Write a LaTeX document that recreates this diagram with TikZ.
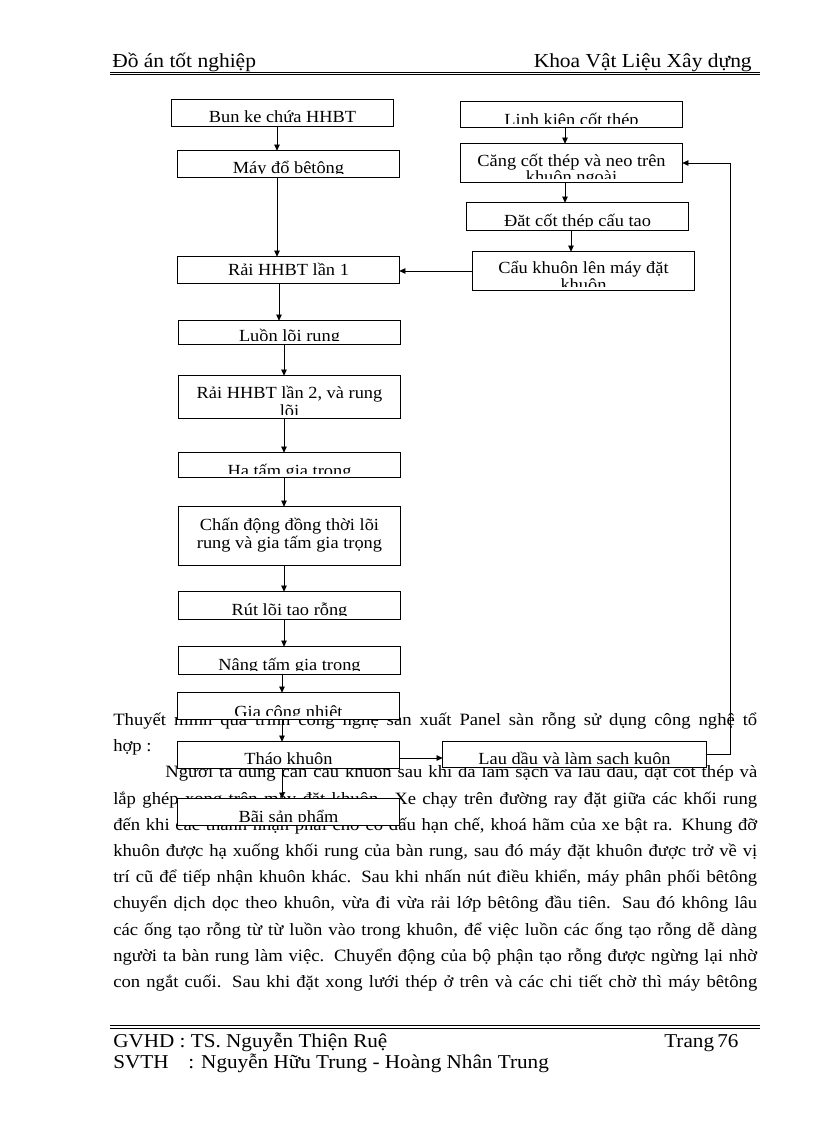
\documentclass[tikz,border=0pt]{standalone}
\usepackage{fontspec}
\setmainfont{Liberation Serif}[FakeStretch=1.08]
\usetikzlibrary{arrows.meta,fit}
\newcommand{\inbox}[4]{%
  \begin{scope}
    \clip ([shift={(0.8pt,2.6pt)}]#1.south west) rectangle ([shift={(-0.8pt,-0.8pt)}]#1.north east);
    \node[btxt] at (#2,#3) {#4};
  \end{scope}}
\begin{document}
\begin{tikzpicture}[x=0.7292pt,y=-0.7292pt,
  box/.style={draw, fill=white, line width=0.6pt, inner sep=0pt},
  btxt/.style={font=\fontsize{12.4}{12.4}\selectfont, inner sep=0pt, anchor=base},
  ptxt/.style={font=\fontsize{12.6}{12.6}\selectfont, inner sep=0pt, anchor=base west},
  htxt/.style={font=\fontsize{14.5}{14.5}\selectfont, inner sep=0pt},
  ftxt/.style={font=\fontsize{14.3}{14.3}\selectfont, inner sep=0pt, anchor=base west},
  arr/.style={line width=0.6pt, -{Triangle[length=4.5pt,width=4pt]}},
  ln/.style={line width=0.6pt}]
\useasboundingbox (0,0) rectangle (816,1123);
\fill[white] (0,0) rectangle (816,1123);

% header
\node[htxt, anchor=base west] (h1) at (112,68) {Đồ án tốt nghiệp};
\node[htxt, anchor=base east] (h2) at (752,68) {Khoa Vật Liệu Xây dựng};
\draw[line width=0.5pt] (110,72) -- (760,72);
\draw[line width=1.2pt] (110,74.6) -- (760,74.6);

% paragraph text
\node[ptxt] (t1) at (113,725) {\makebox[469.6pt][s]{Thuyết minh quá trình công nghệ sản xuất Panel sàn rỗng sử dụng công nghệ tổ}};
\node[ptxt] (t2) at (113,751) {hợp :};
\node[ptxt] (t3) at (165,777) {\makebox[431.7pt][s]{Người ta dùng cần cẩu khuôn sau khi đã làm sạch và lau dầu, đặt cốt thép và}};
\node[ptxt] (t4) at (113,804) {\makebox[469.6pt][s]{lắp ghép xong trên máy đặt khuôn. Xe chạy trên đường ray đặt giữa các khối rung}};
\node[ptxt] (t5) at (113,830) {\makebox[469.6pt][s]{đến khi các thanh nhận phải chờ có dấu hạn chế, khoá hãm của xe bật ra. Khung đỡ}};
\node[ptxt] (t6) at (113,856) {\makebox[469.6pt][s]{khuôn được hạ xuống khối rung của bàn rung, sau đó máy đặt khuôn được trở về vị}};
\node[ptxt] (t7) at (113,882) {\makebox[469.6pt][s]{trí cũ để tiếp nhận khuôn khác. Sau khi nhấn nút điều khiển, máy phân phối bêtông}};
\node[ptxt] (t8) at (113,908) {\makebox[469.6pt][s]{chuyển dịch dọc theo khuôn, vừa đi vừa rải lớp bêtông đầu tiên. Sau đó không lâu}};
\node[ptxt] (t9) at (113,935) {\makebox[469.6pt][s]{các ống tạo rỗng từ từ luồn vào trong khuôn, để việc luồn các ống tạo rỗng dễ dàng}};
\node[ptxt] (t10) at (113,961) {\makebox[469.6pt][s]{người ta bàn rung làm việc. Chuyển động của bộ phận tạo rỗng được ngừng lại nhờ}};
\node[ptxt] (t11) at (113,987) {\makebox[469.6pt][s]{con ngắt cuối. Sau khi đặt xong lưới thép ở trên và các chi tiết chờ thì máy bêtông}};

% connector positions
\coordinate (xa) at (277,0);
\coordinate (xb) at (279,0);
\coordinate (xc) at (284,0);
\coordinate (xd) at (282,0);
\coordinate (xr) at (565,0);
\coordinate (xs) at (571,0);
\coordinate (fb) at (730,0);
\coordinate (yl) at (0,758);

% boxes (geometry only first, for connectors)
\path (172,100) coordinate (b1a) (393,126) coordinate (b1b)
      (178,151) coordinate (b2a) (399,177) coordinate (b2b)
      (178,257) coordinate (b3a) (399,283) coordinate (b3b)
      (179,321) coordinate (b4a) (400,344) coordinate (b4b)
      (179,376) coordinate (b5a) (400,418) coordinate (b5b)
      (179,453) coordinate (b6a) (400,477) coordinate (b6b)
      (179,507) coordinate (b7a) (400,565) coordinate (b7b)
      (179,592) coordinate (b8a) (400,619) coordinate (b8b)
      (179,647) coordinate (b9a) (400,674) coordinate (b9b)
      (178,693) coordinate (b10a) (399,719) coordinate (b10b)
      (178,742) coordinate (b11a) (399,768) coordinate (b11b)
      (178,799) coordinate (b12a) (399,825) coordinate (b12b)
      (461,102) coordinate (r1a) (682,127) coordinate (r1b)
      (461,144) coordinate (r2a) (682,182) coordinate (r2b)
      (467,203) coordinate (r3a) (688,230) coordinate (r3b)
      (473,252) coordinate (r4a) (694,290) coordinate (r4b)
      (443,742) coordinate (r5a) (706,767) coordinate (r5b);

\node[fit=(b1a)(b1b), inner sep=0pt] (b1) {};
\node[fit=(b2a)(b2b), inner sep=0pt] (b2) {};
\node[fit=(b3a)(b3b), inner sep=0pt] (b3) {};
\node[fit=(b4a)(b4b), inner sep=0pt] (b4) {};
\node[fit=(b5a)(b5b), inner sep=0pt] (b5) {};
\node[fit=(b6a)(b6b), inner sep=0pt] (b6) {};
\node[fit=(b7a)(b7b), inner sep=0pt] (b7) {};
\node[fit=(b8a)(b8b), inner sep=0pt] (b8) {};
\node[fit=(b9a)(b9b), inner sep=0pt] (b9) {};
\node[fit=(b10a)(b10b), inner sep=0pt] (b10) {};
\node[fit=(b11a)(b11b), inner sep=0pt] (b11) {};
\node[fit=(b12a)(b12b), inner sep=0pt] (b12) {};
\node[fit=(r1a)(r1b), inner sep=0pt] (r1) {};
\node[fit=(r2a)(r2b), inner sep=0pt] (r2) {};
\node[fit=(r3a)(r3b), inner sep=0pt] (r3) {};
\node[fit=(r4a)(r4b), inner sep=0pt] (r4) {};
\node[fit=(r5a)(r5b), inner sep=0pt] (r5) {};

% connectors
\draw[arr] (b1.south -| xa) -- (b2.north -| xa);
\draw[arr] (b2.south -| xa) -- (b3.north -| xa);
\draw[arr] (b3.south -| xb) -- (b4.north -| xb);
\draw[arr] (b4.south -| xc) -- (b5.north -| xc);
\draw[arr] (b5.south -| xc) -- (b6.north -| xc);
\draw[arr] (b6.south -| xc) -- (b7.north -| xc);
\draw[arr] (b7.south -| xc) -- (b8.north -| xc);
\draw[arr] (b8.south -| xc) -- (b9.north -| xc);
\draw[arr] (b9.south -| xd) -- (b10.north -| xd);
\draw[arr] (b10.south -| xd) -- (b11.north -| xd);
\draw[arr] (b11.south -| xd) -- (b12.north -| xd);
\draw[arr] (r1.south -| xr) -- (r2.north -| xr);
\draw[arr] (r2.south -| xr) -- (r3.north -| xr);
\draw[arr] (r3.south -| xs) -- (r4.north -| xs);
\draw[arr] (r4.west) -- (r4.west -| b3.east);
\draw[arr] (b11.east |- yl) -- (r5.west |- yl);
\draw[arr] (r5.east) -- (r5.east -| fb) |- (r2.east);

% box frames (white, over text)
\foreach \n in {b1,b2,b3,b4,b5,b6,b7,b8,b9,b10,b11,b12,r1,r2,r3,r4,r5}
  \draw[line width=0.6pt, fill=white] (\n.south west) rectangle (\n.north east);

% box texts
\inbox{b1}{282.5}{123}{Bun ke chứa HHBT}
\inbox{b2}{288.5}{174}{Máy đổ bêtông}
\inbox{b3}{288.5}{276}{Rải HHBT lần 1}
\inbox{b4}{289.5}{342}{Luồn lõi rung}
\inbox{b5}{289.5}{399}{Rải HHBT lần 2, và rung}
\inbox{b5}{289.5}{416}{lõi}
\inbox{b6}{289.5}{476}{Hạ tấm gia trọng}
\inbox{b7}{289.5}{530}{Chấn động đồng thời lõi}
\inbox{b7}{289.5}{548}{rung và gia tấm gia trọng}
\inbox{b8}{289.5}{615}{Rút lõi tạo rỗng}
\inbox{b9}{289.5}{670}{Nâng tấm gia trọng}
\inbox{b10}{288.5}{717}{Gia công nhiệt}
\inbox{b11}{288.5}{764}{Tháo khuôn}
\inbox{b12}{288.5}{822}{Bãi sản phẩm}
\inbox{r1}{571.5}{126}{Linh kiện cốt thép}
\inbox{r2}{571.5}{167}{Căng cốt thép và neo trên}
\inbox{r2}{571.5}{183}{khuôn ngoài}
\inbox{r3}{577.5}{227}{Đặt cốt thép cấu tạo}
\inbox{r4}{583.5}{274}{Cẩu khuôn lên máy đặt}
\inbox{r4}{583.5}{291}{khuôn}
\inbox{r5}{574.5}{764}{Lau dầu và làm sạch kuôn}

% footer
\draw[line width=1.2pt] (110,1025.5) -- (760,1025.5);
\draw[line width=0.5pt] (110,1028.6) -- (760,1028.6);
\node[ftxt] (f1) at (113,1047) {GVHD : TS. Nguyễn Thiện Ruệ};
\node[ftxt] (f2) at (664,1047) {Trang\,76};
\node[ftxt] (f3) at (113,1068) {SVTH};
\node[ftxt] (f4) at (188,1068) {: Nguyễn Hữu Trung - Hoàng Nhân Trung};
\end{tikzpicture}
\end{document}
